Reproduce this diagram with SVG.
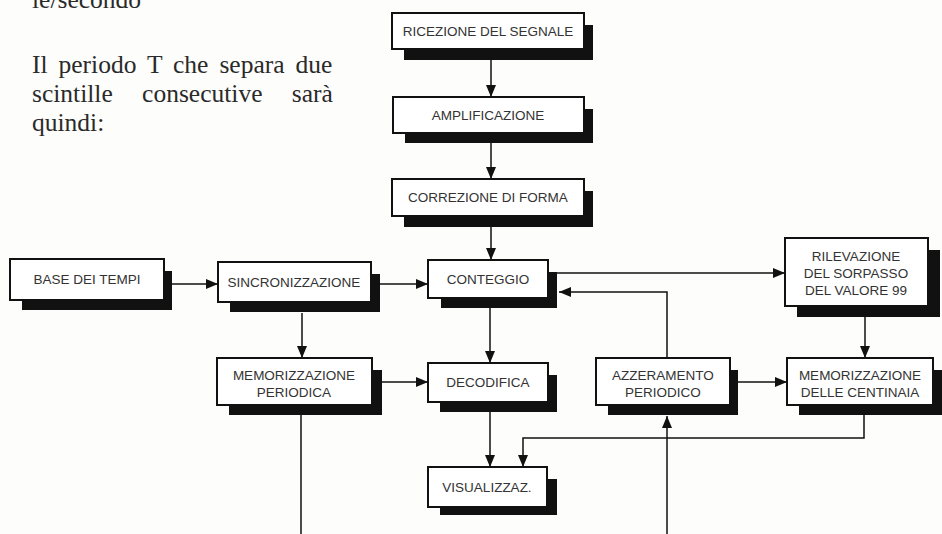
<svg xmlns="http://www.w3.org/2000/svg" width="942" height="534" viewBox="0 0 942 534">
<defs>
<style>
.sh{fill:#111;}
.bx{fill:#fff;stroke:#111;stroke-width:2;}
.lb{font-family:"Liberation Sans",Arial,sans-serif;font-size:13.5px;fill:#333;text-anchor:middle;}
.ln{fill:none;stroke:#111;stroke-width:1.5;}
.tx{font-family:"Liberation Serif","Times New Roman",serif;font-size:25.5px;fill:#2a2a2a;}
</style>
<marker id="ah" viewBox="0 0 12 10" refX="12" refY="5" markerWidth="12" markerHeight="10" markerUnits="userSpaceOnUse" orient="auto">
<path d="M0,0 L12,5 L0,10 Z" fill="#111"/>
</marker>
</defs>
<rect width="942" height="534" fill="#fdfdfb"/>
<g id="page-text" class="tx">
<text x="32" y="8">le/secondo</text>
<text x="32" y="73" word-spacing="4.6">Il periodo T che separa due</text>
<text x="32" y="102" word-spacing="23">scintille consecutive sarà</text>
<text x="32" y="131">quindi:</text>
</g>
<g id="connectors">
<line class="ln" x1="491" y1="60" x2="491" y2="97" marker-end="url(#ah)"/>
<line class="ln" x1="491" y1="143" x2="491" y2="179" marker-end="url(#ah)"/>
<line class="ln" x1="491" y1="227" x2="491" y2="260" marker-end="url(#ah)"/>
<line class="ln" x1="164" y1="284" x2="218" y2="284" marker-end="url(#ah)"/>
<line class="ln" x1="371" y1="284" x2="428" y2="284" marker-end="url(#ah)"/>
<line class="ln" x1="557" y1="273" x2="785" y2="273" marker-end="url(#ah)"/>
<polyline class="ln" points="667,358 667,292 559,292" marker-end="url(#ah)"/>
<line class="ln" x1="302" y1="313" x2="302" y2="358" marker-end="url(#ah)"/>
<line class="ln" x1="490" y1="308" x2="490" y2="363" marker-end="url(#ah)"/>
<line class="ln" x1="865" y1="317" x2="865" y2="358" marker-end="url(#ah)"/>
<line class="ln" x1="372" y1="382" x2="428" y2="382" marker-end="url(#ah)"/>
<line class="ln" x1="730" y1="382" x2="787" y2="382" marker-end="url(#ah)"/>
<line class="ln" x1="490" y1="412" x2="490" y2="467" marker-end="url(#ah)"/>
<polyline class="ln" points="864,415 864,438 523,438 523,467" marker-end="url(#ah)"/>
<line class="ln" x1="301" y1="415" x2="301" y2="534"/>
<line class="ln" x1="667" y1="534" x2="667" y2="416" marker-end="url(#ah)"/>
</g>
<g id="ricezione">
<rect class="sh" x="404" y="25" width="189" height="35"/>
<rect class="bx" x="392" y="13" width="192" height="36"/>
<text class="lb" x="488" y="36">RICEZIONE DEL SEGNALE</text>
</g>
<g id="amplificazione">
<rect class="sh" x="405" y="109" width="188" height="34"/>
<rect class="bx" x="393" y="97" width="191" height="36"/>
<text class="lb" x="488" y="120">AMPLIFICAZIONE</text>
</g>
<g id="correzione">
<rect class="sh" x="404" y="191" width="189" height="36"/>
<rect class="bx" x="392" y="179" width="192" height="37"/>
<text class="lb" x="488" y="202">CORREZIONE DI FORMA</text>
</g>
<g id="base-tempi">
<rect class="sh" x="22" y="271" width="150" height="39"/>
<rect class="bx" x="10" y="259" width="154" height="41"/>
<text class="lb" x="87" y="284">BASE DEI TEMPI</text>
</g>
<g id="sincronizzazione">
<rect class="sh" x="230" y="274" width="150" height="38"/>
<rect class="bx" x="218" y="262" width="153" height="40"/>
<text class="lb" x="294" y="287">SINCRONIZZAZIONE</text>
</g>
<g id="conteggio">
<rect class="sh" x="441" y="272" width="116" height="36"/>
<rect class="bx" x="428" y="260" width="120" height="38"/>
<text class="lb" x="488" y="284">CONTEGGIO</text>
</g>
<g id="rilevazione">
<rect class="sh" x="797" y="250" width="143" height="67"/>
<rect class="bx" x="785" y="238" width="143" height="68"/>
<text class="lb" x="856" y="261">RILEVAZIONE</text>
<text class="lb" x="856" y="278">DEL SORPASSO</text>
<text class="lb" x="856" y="295">DEL VALORE 99</text>
</g>
<g id="memorizzazione-periodica">
<rect class="sh" x="229" y="370" width="153" height="45"/>
<rect class="bx" x="217" y="358" width="155" height="47"/>
<text class="lb" x="294" y="380">MEMORIZZAZIONE</text>
<text class="lb" x="294" y="397">PERIODICA</text>
</g>
<g id="decodifica">
<rect class="sh" x="440" y="375" width="117" height="37"/>
<rect class="bx" x="428" y="363" width="120" height="39"/>
<text class="lb" x="488" y="387">DECODIFICA</text>
</g>
<g id="azzeramento">
<rect class="sh" x="608" y="370" width="130" height="45"/>
<rect class="bx" x="596" y="358" width="134" height="47"/>
<text class="lb" x="663" y="380">AZZERAMENTO</text>
<text class="lb" x="663" y="397">PERIODICO</text>
</g>
<g id="memorizzazione-centinaia">
<rect class="sh" x="799" y="370" width="143" height="45"/>
<rect class="bx" x="787" y="358" width="146" height="47"/>
<text class="lb" x="860" y="380">MEMORIZZAZIONE</text>
<text class="lb" x="860" y="397">DELLE CENTINAIA</text>
</g>
<g id="visualizzazione">
<rect class="sh" x="440" y="479" width="117" height="36"/>
<rect class="bx" x="428" y="467" width="119" height="40"/>
<text class="lb" x="487" y="492">VISUALIZZAZ.</text>
</g>
</svg>
